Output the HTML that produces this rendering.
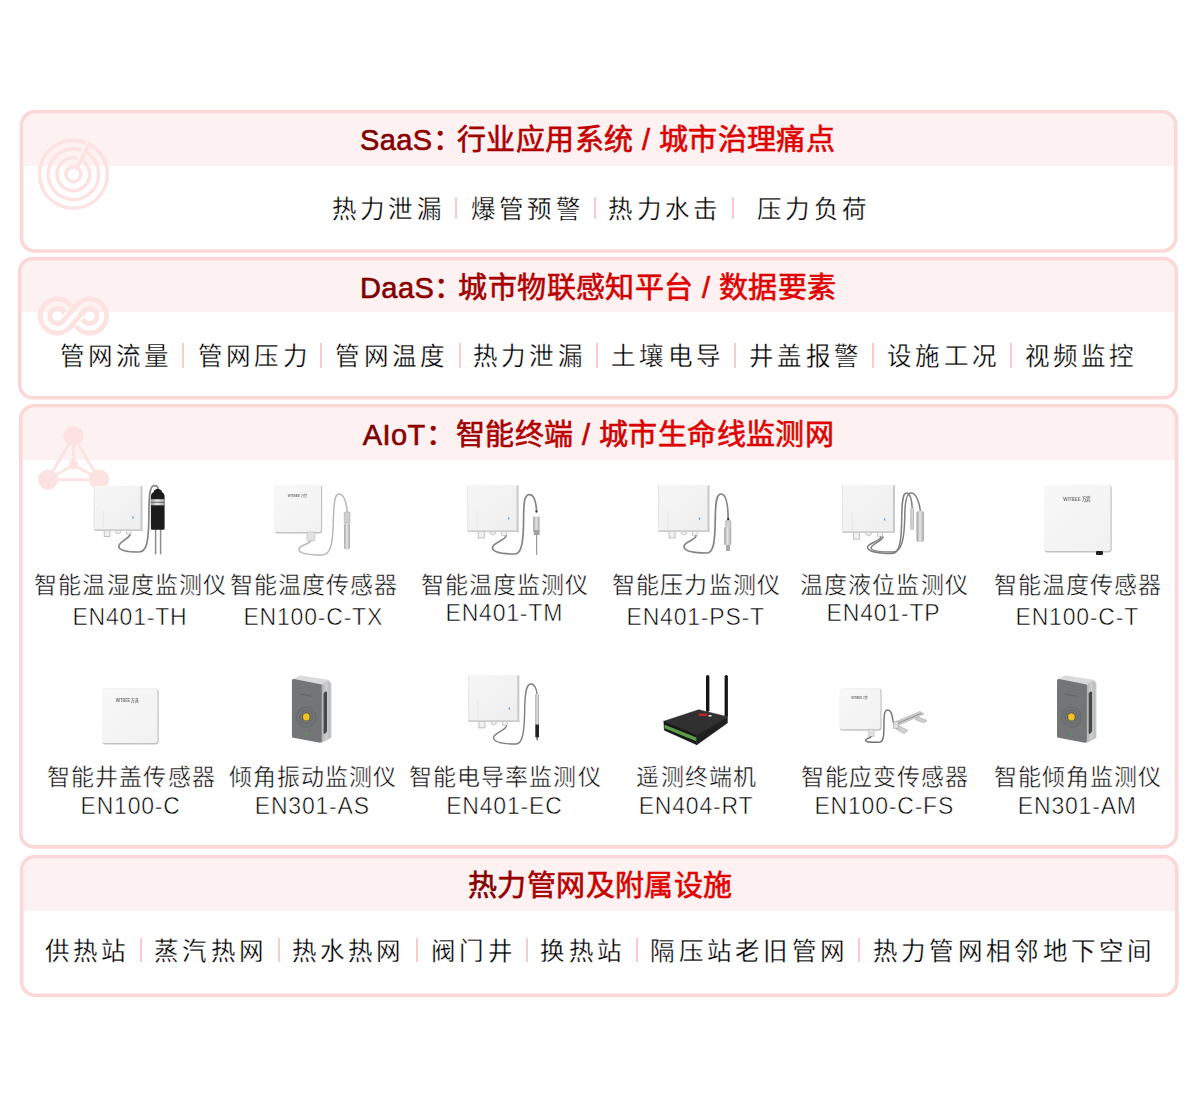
<!DOCTYPE html>
<html lang="zh-CN"><head><meta charset="utf-8">
<style>
*{margin:0;padding:0;box-sizing:border-box}
html,body{width:1200px;height:1109px;overflow:hidden;background:#fff}
body{position:relative;font-family:"Liberation Sans",sans-serif;color:#111}
.tl{letter-spacing:1.1px;font-size:29px!important}
.t{position:absolute;white-space:nowrap;font-size:29px;letter-spacing:0.4px;line-height:40px;-webkit-text-stroke:0.6px currentColor}
.it{position:absolute;font-size:24.5px;line-height:30px;letter-spacing:4.3px;white-space:nowrap;color:#000;-webkit-text-stroke:0.28px #fff}
.sep{position:absolute;width:2px;background:#fccbd0}
.lb{position:absolute;white-space:nowrap;font-size:23px;line-height:30px;letter-spacing:1.15px;color:#0a0a0a;-webkit-text-stroke:0.4px #fff}
.md{position:absolute;white-space:nowrap;font-size:23px;line-height:30px;letter-spacing:0.8px;color:#000;-webkit-text-stroke:0.55px #fff}
svg{overflow:visible}
</style></head><body>

<svg width="1200" height="1109" viewBox="0 0 1200 1109" style="position:absolute;left:0;top:0">
<defs>
<clipPath id="ci0"><rect x="23.30" y="113.60" width="1150.60" height="135.60" rx="11.40"/></clipPath>
<clipPath id="ci1"><rect x="21.50" y="260.40" width="1153.10" height="135.60" rx="11.40"/></clipPath>
<clipPath id="ci2"><rect x="22.60" y="407.50" width="1152.20" height="437.60" rx="11.40"/></clipPath>
<clipPath id="ci3"><rect x="23.50" y="858.40" width="1151.50" height="135.00" rx="11.40"/></clipPath>
</defs>
<g clip-path="url(#ci0)"><rect x="23.30" y="113.60" width="1150.60" height="52.40" fill="#fdf1f1"/></g>
<rect x="21.50" y="111.80" width="1154.20" height="139.20" rx="13.20" fill="none" stroke="#fcd7d7" stroke-width="3.6"/>
<g clip-path="url(#ci1)"><rect x="21.50" y="260.40" width="1153.10" height="51.60" fill="#fdf1f1"/></g>
<rect x="19.70" y="258.60" width="1156.70" height="139.20" rx="13.20" fill="none" stroke="#fcd7d7" stroke-width="3.6"/>
<g clip-path="url(#ci2)"><rect x="22.60" y="407.50" width="1152.20" height="52.50" fill="#fdf1f1"/></g>
<rect x="20.80" y="405.70" width="1155.80" height="441.20" rx="13.20" fill="none" stroke="#fcd7d7" stroke-width="3.6"/>
<g clip-path="url(#ci3)"><rect x="23.50" y="858.40" width="1151.50" height="52.30" fill="#fdf1f1"/></g>
<rect x="21.70" y="856.60" width="1155.10" height="138.60" rx="13.20" fill="none" stroke="#fcd7d7" stroke-width="3.6"/>
<g><path d="M89.36,144.18 A34.0,34.0 0 1 1 85.86,142.57" fill="none" stroke="#fde2e2" stroke-width="3.5"/><path d="M85.28,151.86 A25.3,25.3 0 1 1 81.43,150.21" fill="none" stroke="#fde2e2" stroke-width="3.5"/><path d="M81.10,159.72 A16.4,16.4 0 1 1 77.09,158.22" fill="none" stroke="#fde2e2" stroke-width="3.5"/><circle cx="73.4" cy="174.2" r="7.5" fill="none" stroke="#fde2e2" stroke-width="3.6"/><line x1="77.72" y1="166.08" x2="90.16" y2="142.68" stroke="#fde2e2" stroke-width="3.5"/></g>
<defs><mask id="minf" maskUnits="userSpaceOnUse" x="0" y="250" width="200" height="120"><path d="M73.5,316.0 L80.20,308.06 A12.3,12.3 0 1 1 80.20,323.94 L66.80,308.06 A12.3,12.3 0 1 0 66.80,323.94 Z" fill="none" stroke="#fff" stroke-width="14.4"/><path d="M73.5,316.0 L80.20,308.06 A12.3,12.3 0 1 1 80.20,323.94 L66.80,308.06 A12.3,12.3 0 1 0 66.80,323.94 Z" fill="none" stroke="#000" stroke-width="4.6"/><path d="M68.98,321.35 L78.02,310.65" fill="none" stroke="#000" stroke-width="17.2"/><path d="M66.80,323.94 L80.20,308.06" fill="none" stroke="#fff" stroke-width="14.4"/><path d="M66.80,323.94 L80.20,308.06" fill="none" stroke="#000" stroke-width="4.6"/></mask></defs>
<rect x="30" y="290" width="90" height="55" fill="#fde2e2" mask="url(#minf)"/>
<g><line x1="73.5" y1="436.1" x2="48.0" y2="479.6" stroke="#fde2e2" stroke-width="2.8"/><line x1="73.5" y1="436.1" x2="99.0" y2="479.6" stroke="#fde2e2" stroke-width="2.8"/><line x1="48.0" y1="479.6" x2="99.0" y2="479.6" stroke="#fde2e2" stroke-width="2.8"/><line x1="73.5" y1="464.6" x2="73.5" y2="436.1" stroke="#fde2e2" stroke-width="2.8"/><line x1="73.5" y1="464.6" x2="48.0" y2="479.6" stroke="#fde2e2" stroke-width="2.8"/><line x1="73.5" y1="464.6" x2="99.0" y2="479.6" stroke="#fde2e2" stroke-width="2.8"/><circle cx="73.5" cy="436.1" r="10.1" fill="#fde2e2"/><circle cx="48.0" cy="479.6" r="10.1" fill="#fde2e2"/><circle cx="99.0" cy="479.6" r="10.1" fill="#fde2e2"/><circle cx="73.5" cy="464.6" r="4.9" fill="#fde2e2"/></g>
<defs><linearGradient id="gA" x1="0" y1="0" x2="1" y2="1"><stop offset="0" stop-color="#f6f6f6"/><stop offset="1" stop-color="#eeeeee"/></linearGradient><linearGradient id="gB" x1="0" y1="0" x2="1" y2="1"><stop offset="0" stop-color="#f8f8f8"/><stop offset="1" stop-color="#f1f1f1"/></linearGradient><linearGradient id="gSide" x1="0" y1="0" x2="1" y2="0"><stop offset="0" stop-color="#a9aaab"/><stop offset="0.5" stop-color="#cfd0d1"/><stop offset="1" stop-color="#b5b6b7"/></linearGradient><linearGradient id="gSil" x1="0" y1="0" x2="1" y2="0"><stop offset="0" stop-color="#9a9a9a"/><stop offset="0.45" stop-color="#e6e6e6"/><stop offset="1" stop-color="#a8a8a8"/></linearGradient></defs>
<rect x="104.20" y="530.00" width="5.70" height="6.50" fill="#f0f0f0" stroke="#b9b9b9" stroke-width="0.9"/><path d="M115.70,530.00 L115.70,532.50 Q118.15,535.20 120.60,532.50 L120.60,530.00Z" fill="#f0f0f0" stroke="#bdbdbd" stroke-width="0.9"/><rect x="126.40" y="530.00" width="4.60" height="4.00" fill="#f2f2f2" stroke="#c4c4c4" stroke-width="0.8"/><rect x="93.80" y="485.70" width="48.70" height="45.30" rx="0.8" fill="url(#gA)"/><rect x="140.50" y="486.20" width="2" height="44.80" fill="#c9c9c9"/><rect x="94.30" y="529.20" width="48.20" height="1.8" fill="#cdcdcd"/><rect x="93.80" y="485.70" width="0.8" height="45.30" fill="#e2e2e2"/><rect x="102.80" y="510.70" width="0.8" height="17.00" fill="#e3e3e3"/><rect x="132.40" y="516.50" width="1.3" height="2" fill="#4b9be0"/>
<path d="M130,535 C127,540 119,542 118.8,546.5 C119,551 128,552 139,552 C147,552 148.5,540 148.8,520 C149,500 149,486 154,485.6 C157,485.5 158,487 158,489" fill="none" stroke="#858585" stroke-width="1.7" stroke-linecap="round" stroke-linejoin="round"/>
<line x1="155.6" y1="529" x2="155.6" y2="554.3" stroke="#8d8d8d" stroke-width="1.5"/>
<line x1="160.6" y1="529" x2="160.6" y2="554.3" stroke="#8d8d8d" stroke-width="1.5"/>
<path d="M150.9,497 Q150.9,493 153.8,492 L154,490.5 Q157.8,486.8 161.6,490.5 L161.8,492 Q164.6,493 164.6,497 L164.6,528.5 Q164.6,529.8 163.3,529.8 L152.2,529.8 Q150.9,529.8 150.9,528.5 Z" fill="#1c1c1c"/>
<rect x="150.9" y="499.2" width="13.7" height="6.1" fill="url(#gSil)"/>
<rect x="150.9" y="501.8" width="13.7" height="1" fill="#666"/>
<rect x="274.80" y="485.30" width="47.40" height="48.20" rx="3" fill="#c2c2c2"/><rect x="274.50" y="485.00" width="46.50" height="47.00" rx="2.6" fill="url(#gB)"/><text x="297.50" y="496.85" text-anchor="middle" font-family="Liberation Sans" font-weight="bold" font-size="3.75" fill="#555" opacity="0.8" textLength="19.50" lengthAdjust="spacingAndGlyphs">WITBEE 万宾</text>
<rect x="307" y="532" width="8" height="9" rx="1" fill="#e2e2e2" stroke="#b8b8b8" stroke-width="0.6"/>
<path d="M310.5,541 C308,545 299,545 299,549.5 C299,554 312,555 322,555 C332,555 333,540 333.5,515 C334,498 336,494 339,494 C343,494 346,500 347.3,512" fill="none" stroke="#b8b8b8" stroke-width="1.5" stroke-linecap="round" stroke-linejoin="round"/>
<rect x="344.2" y="512" width="5.8" height="11" rx="1" fill="#cfcfcf" stroke="#9c9c9c" stroke-width="0.5"/>
<rect x="344.2" y="523" width="5.8" height="26.5" rx="2" fill="url(#gSil)"/>
<rect x="478.26" y="531.10" width="6.00" height="6.85" fill="#f0f0f0" stroke="#b9b9b9" stroke-width="0.9"/><path d="M490.37,531.10 L490.37,533.60 Q492.95,536.30 495.53,533.60 L495.53,531.10Z" fill="#f0f0f0" stroke="#bdbdbd" stroke-width="0.9"/><rect x="501.64" y="531.10" width="4.85" height="4.21" fill="#f2f2f2" stroke="#c4c4c4" stroke-width="0.8"/><rect x="467.30" y="485.00" width="51.30" height="47.10" rx="0.8" fill="url(#gA)"/><rect x="516.60" y="485.50" width="2" height="46.60" fill="#c9c9c9"/><rect x="467.80" y="530.30" width="50.80" height="1.8" fill="#cdcdcd"/><rect x="467.30" y="485.00" width="0.8" height="47.10" fill="#e2e2e2"/><rect x="476.78" y="511.33" width="0.8" height="17.91" fill="#e3e3e3"/><rect x="507.96" y="517.44" width="1.3" height="2" fill="#4b9be0"/>
<path d="M506,536 C504,541 493,543 492.5,547.5 C492.5,552 502,554 515,554 C522,554 523.5,540 523.6,518 C523.7,500 525,494.6 529.5,494.6 C534,494.6 536,502 536.6,511" fill="none" stroke="#858585" stroke-width="1.7" stroke-linecap="round" stroke-linejoin="round"/>
<circle cx="536.4" cy="511.6" r="1.1" fill="#222"/>
<rect x="533.2" y="516.5" width="6.4" height="15.5" rx="1" fill="url(#gSil)"/>
<rect x="533.8" y="530" width="5.8" height="5" fill="#a0a0a0"/>
<line x1="536.6" y1="535" x2="536.6" y2="555" stroke="#9a9a9a" stroke-width="1.2"/>
<rect x="669.00" y="531.00" width="6.03" height="6.87" fill="#f0f0f0" stroke="#b9b9b9" stroke-width="0.9"/><path d="M681.16,531.00 L681.16,533.50 Q683.75,536.20 686.34,533.50 L686.34,531.00Z" fill="#f0f0f0" stroke="#bdbdbd" stroke-width="0.9"/><rect x="692.47" y="531.00" width="4.86" height="4.23" fill="#f2f2f2" stroke="#c4c4c4" stroke-width="0.8"/><rect x="658.00" y="485.00" width="51.50" height="47.00" rx="0.8" fill="url(#gA)"/><rect x="707.50" y="485.50" width="2" height="46.50" fill="#c9c9c9"/><rect x="658.50" y="530.20" width="51.00" height="1.8" fill="#cdcdcd"/><rect x="658.00" y="485.00" width="0.8" height="47.00" fill="#e2e2e2"/><rect x="667.52" y="511.44" width="0.8" height="17.98" fill="#e3e3e3"/><rect x="698.82" y="517.57" width="1.3" height="2" fill="#4b9be0"/>
<path d="M696,536 C694,541 684,542 684,546.5 C684,551 694,553 707,553 C714,553 715,540 715.3,518 C715.5,500 717,494 721,494 C726,494 728,505 728.2,519" fill="none" stroke="#858585" stroke-width="1.7" stroke-linecap="round" stroke-linejoin="round"/>
<circle cx="728.2" cy="519.2" r="1.1" fill="#222"/>
<rect x="725.6" y="520.5" width="5.4" height="7" rx="0.8" fill="#cfcfcf" stroke="#999" stroke-width="0.5"/>
<rect x="724.2" y="527" width="7" height="18" rx="1" fill="url(#gSil)"/>
<rect x="726" y="545" width="4" height="6" fill="#a8a8a8"/>
<rect x="853.32" y="532.00" width="6.20" height="7.07" fill="#f0f0f0" stroke="#b9b9b9" stroke-width="0.9"/><path d="M865.83,532.00 L865.83,534.50 Q868.50,537.20 871.17,534.50 L871.17,532.00Z" fill="#f0f0f0" stroke="#bdbdbd" stroke-width="0.9"/><rect x="877.48" y="532.00" width="5.01" height="4.35" fill="#f2f2f2" stroke="#c4c4c4" stroke-width="0.8"/><rect x="842.00" y="485.00" width="53.00" height="48.00" rx="0.8" fill="url(#gA)"/><rect x="893.00" y="485.50" width="2" height="47.50" fill="#c9c9c9"/><rect x="842.50" y="531.20" width="52.50" height="1.8" fill="#cdcdcd"/><rect x="842.00" y="485.00" width="0.8" height="48.00" fill="#e2e2e2"/><rect x="851.79" y="512.21" width="0.8" height="18.50" fill="#e3e3e3"/><rect x="884.01" y="518.52" width="1.3" height="2" fill="#4b9be0"/>
<path d="M881,537 C879,542 868,543 867.5,547 C867.5,551 877,553.5 892,553.5 C900,553.5 901.5,540 901.7,518 C902,500 903,493 906.5,493 C910,493 912,500 912.2,508" fill="none" stroke="#7f7f7f" stroke-width="1.5" stroke-linecap="round" stroke-linejoin="round"/>
<path d="M883,537 C881,542 871,544 871,548 C871.5,551 881,552 893,552 C902,552 904.5,538 904.8,515 C905,500 907,493 911,493 C915,493 919,499 920.3,511" fill="none" stroke="#7f7f7f" stroke-width="1.5" stroke-linecap="round" stroke-linejoin="round"/>
<rect x="910.5" y="508" width="3.5" height="22" rx="1.2" fill="url(#gSil)"/>
<rect x="916.5" y="511" width="7.5" height="31" rx="2" fill="url(#gSil)"/>
<rect x="1044.30" y="485.30" width="67.40" height="67.20" rx="3" fill="#c2c2c2"/><rect x="1044.00" y="485.00" width="66.50" height="66.00" rx="2.6" fill="url(#gB)"/><text x="1077.00" y="501.40" text-anchor="middle" font-family="Liberation Sans" font-weight="bold" font-size="5.29" fill="#555" opacity="0.8" textLength="27.50" lengthAdjust="spacingAndGlyphs">WITBEE 万宾</text>
<rect x="1096" y="551" width="7" height="4" rx="1" fill="#222"/>
<rect x="102.30" y="688.80" width="56.40" height="55.70" rx="3" fill="#c2c2c2"/><rect x="102.00" y="688.50" width="55.50" height="54.50" rx="2.6" fill="url(#gB)"/><text x="127.50" y="702.13" text-anchor="middle" font-family="Liberation Sans" font-weight="bold" font-size="4.52" fill="#555" opacity="0.8" textLength="23.50" lengthAdjust="spacingAndGlyphs">WITBEE 万宾</text>
<path d="M293.50,679.8 L300.50,676.4 L328.20,680.8 L321.00,685 Z" fill="#dadadb" stroke="#dadadb" stroke-width="2" stroke-linejoin="round"/><path d="M321.30,685 L328.60,681.3 L330.60,683.5 L330.60,737.5 L321.80,742.2 Z" fill="url(#gSide)" stroke="#c4c5c6" stroke-width="1.4" stroke-linejoin="round"/><path d="M323.60,693.5 Q325.30,690.5 327.00,692 L327.00,731 Q325.30,735 323.60,733.5 Z" fill="#464748"/><path d="M293.60,680.7 L320.10,685.9 L320.10,741 L293.60,736.2 Z" fill="#737576" stroke="#737576" stroke-width="3.4" stroke-linejoin="round"/><ellipse cx="306.30" cy="716.9" rx="9.6" ry="9.9" fill="none" stroke="#6a6c6d" stroke-width="1.5"/><ellipse cx="306.30" cy="716.9" rx="6.5" ry="6.7" fill="none" stroke="#686a6b" stroke-width="1.3"/><ellipse cx="306.30" cy="716.9" rx="4.2" ry="4.3" fill="#3f4b63"/><ellipse cx="306.30" cy="716.9" rx="3.4" ry="3.6" fill="#f1c21c"/><circle cx="306.30" cy="733.9" r="0.8" fill="#3ab54a"/><path d="M300.00,694 L312.50,696.3" stroke="#5f6162" stroke-width="0.9"/>
<rect x="478.96" y="721.00" width="6.00" height="6.85" fill="#f0f0f0" stroke="#b9b9b9" stroke-width="0.9"/><path d="M491.07,721.00 L491.07,723.50 Q493.65,726.20 496.23,723.50 L496.23,721.00Z" fill="#f0f0f0" stroke="#bdbdbd" stroke-width="0.9"/><rect x="502.34" y="721.00" width="4.85" height="4.21" fill="#f2f2f2" stroke="#c4c4c4" stroke-width="0.8"/><rect x="468.00" y="675.00" width="51.30" height="47.00" rx="0.8" fill="url(#gA)"/><rect x="517.30" y="675.50" width="2" height="46.50" fill="#c9c9c9"/><rect x="468.50" y="720.20" width="50.80" height="1.8" fill="#cdcdcd"/><rect x="468.00" y="675.00" width="0.8" height="47.00" fill="#e2e2e2"/><rect x="477.48" y="701.33" width="0.8" height="17.91" fill="#e3e3e3"/><rect x="508.66" y="707.44" width="1.3" height="2" fill="#4b9be0"/>
<path d="M506.5,726 C504.5,731 494,733 493.5,737.5 C493.5,742 503,744 516,744 C523,744 524.5,730 524.7,708 C525,690 527,684 531,684 C535,684 536.7,690 537,694" fill="none" stroke="#7f7f7f" stroke-width="1.4" stroke-linecap="round" stroke-linejoin="round"/>
<rect x="535.3" y="694" width="3.7" height="31" rx="1.2" fill="url(#gSil)"/>
<rect x="535.3" y="724.5" width="3.7" height="12.5" fill="#222"/>
<path d="M535.6,737 L538.7,737 L537.2,741.5 Z" fill="#777"/>
<rect x="706" y="675" width="3.4" height="37" rx="1.7" fill="#141414"/>
<rect x="724.6" y="675" width="3.3" height="42" rx="1.6" fill="#141414"/>
<path d="M663.8,721.3 L698.7,709.8 L727.4,716.7 L696.8,735 Z" fill="#303030" stroke="#303030" stroke-width="0.6" stroke-linejoin="round"/>
<path d="M663.8,721.3 L696.8,735 L696.8,744.7 L664.4,730.2 Z" fill="#181818" stroke="#181818" stroke-width="0.6" stroke-linejoin="round"/>
<path d="M696.8,735 L727.4,716.7 L727.4,722.9 L696.8,744.7 Z" fill="#202020" stroke="#202020" stroke-width="0.6" stroke-linejoin="round"/>
<path d="M664.6,724.8 L696.4,737.6 L696.4,741.3 L664.6,728.2 Z" fill="#5c9f4b"/>
<path d="M698.2,713.5 L706.5,713.6 L707.5,716 L699.3,715.9 Z" fill="#c8232b"/>
<rect x="708.5" y="715" width="3" height="1.6" fill="#ddd"/>
<rect x="839.90" y="688.60" width="41.70" height="42.10" rx="3" fill="#c2c2c2"/><rect x="839.60" y="688.30" width="40.80" height="40.90" rx="2.6" fill="url(#gB)"/><text x="859.60" y="698.66" text-anchor="middle" font-family="Liberation Sans" font-weight="bold" font-size="3.23" fill="#555" opacity="0.8" textLength="16.80" lengthAdjust="spacingAndGlyphs">WITBEE 万宾</text>
<rect x="868.3" y="729.2" width="5.9" height="7.5" rx="1" fill="#e0e0e0" stroke="#b0b0b0" stroke-width="0.5"/>
<path d="M871,736.7 C869,738.5 865.5,739 865.5,740.5 C866,742.5 876,742.5 880,742 C884,741 884,734 884,720 C884,712 885.5,710 887.5,710 C890,710 892,712 892.8,720 C893.2,724 894.5,725 897,725" fill="none" stroke="#6e6e6e" stroke-width="1.4" stroke-linecap="round" stroke-linejoin="round"/>
<path d="M895,722 L920,711.5 L924,714 L899,725 Z" fill="#d0d0d0" stroke="#9a9a9a" stroke-width="0.5"/>
<path d="M896,724 L921,713.5" stroke="#777" stroke-width="0.8"/>
<path d="M899.5,726 L908,730.5 L904,733.5 L896,729 Z" fill="#cfcfcf" stroke="#999" stroke-width="0.5"/>
<path d="M918,717 L927,720.5 L924,722.8 L915,719.5 Z" fill="#cfcfcf" stroke="#999" stroke-width="0.5"/>
<rect x="893.5" y="721.5" width="5" height="7" fill="#dcdcdc" stroke="#999" stroke-width="0.5"/>
<path d="M1058.60,679.8 L1065.60,676.4 L1093.30,680.8 L1086.10,685 Z" fill="#dadadb" stroke="#dadadb" stroke-width="2" stroke-linejoin="round"/><path d="M1086.40,685 L1093.70,681.3 L1095.70,683.5 L1095.70,737.5 L1086.90,742.2 Z" fill="url(#gSide)" stroke="#c4c5c6" stroke-width="1.4" stroke-linejoin="round"/><path d="M1088.70,693.5 Q1090.40,690.5 1092.10,692 L1092.10,731 Q1090.40,735 1088.70,733.5 Z" fill="#464748"/><path d="M1058.70,680.7 L1085.20,685.9 L1085.20,741 L1058.70,736.2 Z" fill="#737576" stroke="#737576" stroke-width="3.4" stroke-linejoin="round"/><ellipse cx="1071.40" cy="716.9" rx="9.6" ry="9.9" fill="none" stroke="#6a6c6d" stroke-width="1.5"/><ellipse cx="1071.40" cy="716.9" rx="6.5" ry="6.7" fill="none" stroke="#686a6b" stroke-width="1.3"/><ellipse cx="1071.40" cy="716.9" rx="4.2" ry="4.3" fill="#3f4b63"/><ellipse cx="1071.40" cy="716.9" rx="3.4" ry="3.6" fill="#f1c21c"/><circle cx="1071.40" cy="733.9" r="0.8" fill="#3ab54a"/><path d="M1065.10,694 L1077.60,696.3" stroke="#5f6162" stroke-width="0.9"/>
</svg>
<div class="t tl" style="left:360.0px;top:119.9px"><span style="color:#7d0000">S</span><span style="color:#820000">a</span><span style="color:#880000">a</span><span style="color:#8e0000">S</span><span style="color:#930000">：</span></div>
<div class="t" style="left:457.0px;top:119.9px"><span style="color:#9f0000">行</span><span style="color:#a90000">业</span><span style="color:#b30000">应</span><span style="color:#bc0000">用</span><span style="color:#c60000">系</span><span style="color:#d00000">统</span><span style="color:#d60000"> </span><span style="color:#d90000">/</span><span style="color:#dc0000"> </span><span style="color:#e00000">城</span><span style="color:#e00000">市</span><span style="color:#e00000">治</span><span style="color:#e00000">理</span><span style="color:#e00000">痛</span><span style="color:#e00000">点</span></div>
<div class="t tl" style="left:360.0px;top:267.8px"><span style="color:#7d0000">D</span><span style="color:#820000">a</span><span style="color:#880000">a</span><span style="color:#8e0000">S</span><span style="color:#930000">：</span></div>
<div class="t" style="left:458.4px;top:267.8px"><span style="color:#9f0000">城</span><span style="color:#a90000">市</span><span style="color:#b30000">物</span><span style="color:#bc0000">联</span><span style="color:#c60000">感</span><span style="color:#d00000">知</span><span style="color:#da0000">平</span><span style="color:#e00000">台</span><span style="color:#e00000"> </span><span style="color:#e00000">/</span><span style="color:#e00000"> </span><span style="color:#e00000">数</span><span style="color:#e00000">据</span><span style="color:#e00000">要</span><span style="color:#e00000">素</span></div>
<div class="t tl" style="left:362.7px;top:415.0px"><span style="color:#7d0000">A</span><span style="color:#820000">I</span><span style="color:#880000">o</span><span style="color:#8e0000">T</span><span style="color:#940000">：</span></div>
<div class="t" style="left:456.0px;top:415.0px"><span style="color:#9e0000">智</span><span style="color:#a80000">能</span><span style="color:#b20000">终</span><span style="color:#bc0000">端</span><span style="color:#c20000"> </span><span style="color:#c50000">/</span><span style="color:#c80000"> </span><span style="color:#ce0000">城</span><span style="color:#d80000">市</span><span style="color:#e00000">生</span><span style="color:#e00000">命</span><span style="color:#e00000">线</span><span style="color:#e00000">监</span><span style="color:#e00000">测</span><span style="color:#e00000">网</span></div>
<div class="t" style="left:467.9px;top:865.7px"><span style="color:#830000">热</span><span style="color:#950000">力</span><span style="color:#a60000">管</span><span style="color:#b80000">网</span><span style="color:#ca0000">及</span><span style="color:#db0000">附</span><span style="color:#e00000">属</span><span style="color:#e00000">设</span><span style="color:#e00000">施</span></div>
<div class="it" style="left:331.80px;top:194.50px">热力泄漏</div>
<div class="sep" style="left:455px;top:196.7px;height:22.8px"></div>
<div class="it" style="left:470.70px;top:194.50px">爆管预警</div>
<div class="sep" style="left:594px;top:196.7px;height:22.8px"></div>
<div class="it" style="left:608.30px;top:194.50px">热力水击</div>
<div class="sep" style="left:732px;top:196.7px;height:22.8px"></div>
<div class="it" style="left:757.00px;top:194.50px">压力负荷</div>
<div class="it" style="left:59.50px;top:341.75px">管网流量</div>
<div class="sep" style="left:182px;top:343.1px;height:24.6px"></div>
<div class="it" style="left:197.75px;top:341.75px">管网压力</div>
<div class="sep" style="left:320px;top:343.1px;height:24.6px"></div>
<div class="it" style="left:335.25px;top:341.75px">管网温度</div>
<div class="sep" style="left:459px;top:343.1px;height:24.6px"></div>
<div class="it" style="left:472.75px;top:341.75px">热力泄漏</div>
<div class="sep" style="left:596px;top:343.1px;height:24.6px"></div>
<div class="it" style="left:611.00px;top:341.75px">土壤电导</div>
<div class="sep" style="left:734px;top:343.1px;height:24.6px"></div>
<div class="it" style="left:749.00px;top:341.75px">井盖报警</div>
<div class="sep" style="left:872px;top:343.1px;height:24.6px"></div>
<div class="it" style="left:887.00px;top:341.75px">设施工况</div>
<div class="sep" style="left:1010px;top:343.1px;height:24.6px"></div>
<div class="it" style="left:1024.50px;top:341.75px">视频监控</div>
<div class="it" style="left:44.50px;top:936.50px">供热站</div>
<div class="sep" style="left:140px;top:938.1px;height:23.9px"></div>
<div class="it" style="left:154.00px;top:936.50px">蒸汽热网</div>
<div class="sep" style="left:278px;top:938.1px;height:23.9px"></div>
<div class="it" style="left:291.50px;top:936.50px">热水热网</div>
<div class="sep" style="left:416px;top:938.1px;height:23.9px"></div>
<div class="it" style="left:431.00px;top:936.50px">阀门井</div>
<div class="sep" style="left:526px;top:938.1px;height:23.9px"></div>
<div class="it" style="left:540.25px;top:936.50px">换热站</div>
<div class="sep" style="left:636px;top:938.1px;height:23.9px"></div>
<div class="it" style="left:650.25px;top:936.50px">隔压站老旧管网</div>
<div class="sep" style="left:858px;top:938.1px;height:23.9px"></div>
<div class="it" style="left:872.75px;top:936.50px">热力管网相邻地下空间</div>
<div class="lb" style="left:130.8px;top:570.3px;transform:translateX(-50%)">智能温湿度监测仪</div>
<div class="md" style="left:130.0px;top:601.5px;transform:translateX(-50%)">EN401-TH</div>
<div class="lb" style="left:314.1px;top:570.3px;transform:translateX(-50%)">智能温度传感器</div>
<div class="md" style="left:313.3px;top:601.5px;transform:translateX(-50%)">EN100-C-TX</div>
<div class="lb" style="left:505.1px;top:570.3px;transform:translateX(-50%)">智能温度监测仪</div>
<div class="md" style="left:504.3px;top:598.0px;transform:translateX(-50%)">EN401-TM</div>
<div class="lb" style="left:696.5px;top:570.3px;transform:translateX(-50%)">智能压力监测仪</div>
<div class="md" style="left:695.7px;top:601.5px;transform:translateX(-50%)">EN401-PS-T</div>
<div class="lb" style="left:884.3px;top:570.3px;transform:translateX(-50%)">温度液位监测仪</div>
<div class="md" style="left:883.5px;top:598.0px;transform:translateX(-50%)">EN401-TP</div>
<div class="lb" style="left:1078.1px;top:570.3px;transform:translateX(-50%)">智能温度传感器</div>
<div class="md" style="left:1077.3px;top:601.5px;transform:translateX(-50%)">EN100-C-T</div>
<div class="lb" style="left:131.4px;top:762.0px;transform:translateX(-50%)">智能井盖传感器</div>
<div class="md" style="left:130.6px;top:791.3px;transform:translateX(-50%)">EN100-C</div>
<div class="lb" style="left:313.1px;top:762.0px;transform:translateX(-50%)">倾角振动监测仪</div>
<div class="md" style="left:312.3px;top:791.3px;transform:translateX(-50%)">EN301-AS</div>
<div class="lb" style="left:505.2px;top:762.0px;transform:translateX(-50%)">智能电导率监测仪</div>
<div class="md" style="left:504.4px;top:791.3px;transform:translateX(-50%)">EN401-EC</div>
<div class="lb" style="left:696.8px;top:762.0px;transform:translateX(-50%)">遥测终端机</div>
<div class="md" style="left:696.0px;top:791.3px;transform:translateX(-50%)">EN404-RT</div>
<div class="lb" style="left:885.1px;top:762.0px;transform:translateX(-50%)">智能应变传感器</div>
<div class="md" style="left:884.3px;top:791.3px;transform:translateX(-50%)">EN100-C-FS</div>
<div class="lb" style="left:1078.1px;top:762.0px;transform:translateX(-50%)">智能倾角监测仪</div>
<div class="md" style="left:1077.3px;top:791.3px;transform:translateX(-50%)">EN301-AM</div>
</body></html>
